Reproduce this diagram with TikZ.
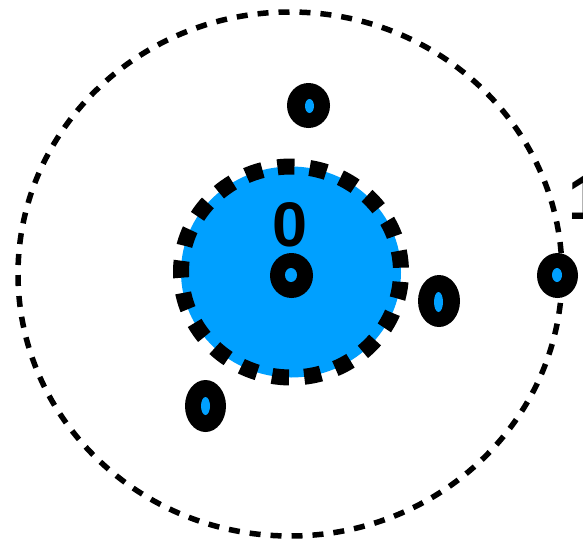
\documentclass[tikz,border=0pt]{standalone}
\usepackage{fontspec}
\setmainfont{Liberation Sans}
\usetikzlibrary{shapes.geometric}
\definecolor{skyblue}{RGB}{0,160,255}
\tikzset{
  orbit/.style={ellipse, draw=black, line width=5.5pt, dash pattern=on 11pt off 10pt, inner sep=0pt},
  core/.style={ellipse, fill=skyblue, draw=black, line width=16pt, dash pattern=on 17pt off 15.3pt, dash phase=28pt, inner sep=0pt},
  bead/.style={ellipse, fill=black, inner sep=0pt},
  eye/.style={ellipse, fill=skyblue, inner sep=0pt},
  lbl/.style={inner sep=0pt, font=\fontsize{63}{63}\selectfont\bfseries}
}
\begin{document}
\begin{tikzpicture}[x=1pt,y=-1pt]
\useasboundingbox (0,0) rectangle (583,538);
\clip (0,0) rectangle (583,538);
\node[orbit, minimum width=544pt, minimum height=524pt] (outer) at (290,274) {};
\node[core, minimum width=220pt, minimum height=211pt] (nucleus) at (291,272) {};
\node[lbl, anchor=base] (l0) at (290,246.7) {0};
\node[lbl, anchor=base west] (l1) at (568.5,219) {1};
\node[bead, minimum width=43pt, minimum height=45pt] (b1) at (308.5,105.5) {};
\node[eye, minimum width=9pt, minimum height=14pt] (e1) at (309.5,106) {};
\node[bead, minimum width=43pt, minimum height=45pt] (b2) at (291.5,275.5) {};
\node[eye, minimum width=12pt, minimum height=14pt] (e2) at (291,275) {};
\node[bead, minimum width=42pt, minimum height=52pt] (b3) at (439,301) {};
\node[eye, minimum width=9pt, minimum height=20pt] (e3) at (438.5,302) {};
\node[bead, minimum width=41pt, minimum height=45pt] (b4) at (557.5,275.5) {};
\node[eye, minimum width=10pt, minimum height=14pt] (e4) at (557,275) {};
\node[bead, minimum width=41pt, minimum height=52pt] (b5) at (205.5,406) {};
\node[eye, minimum width=9pt, minimum height=18pt] (e5) at (205.5,406) {};
\end{tikzpicture}
\end{document}
